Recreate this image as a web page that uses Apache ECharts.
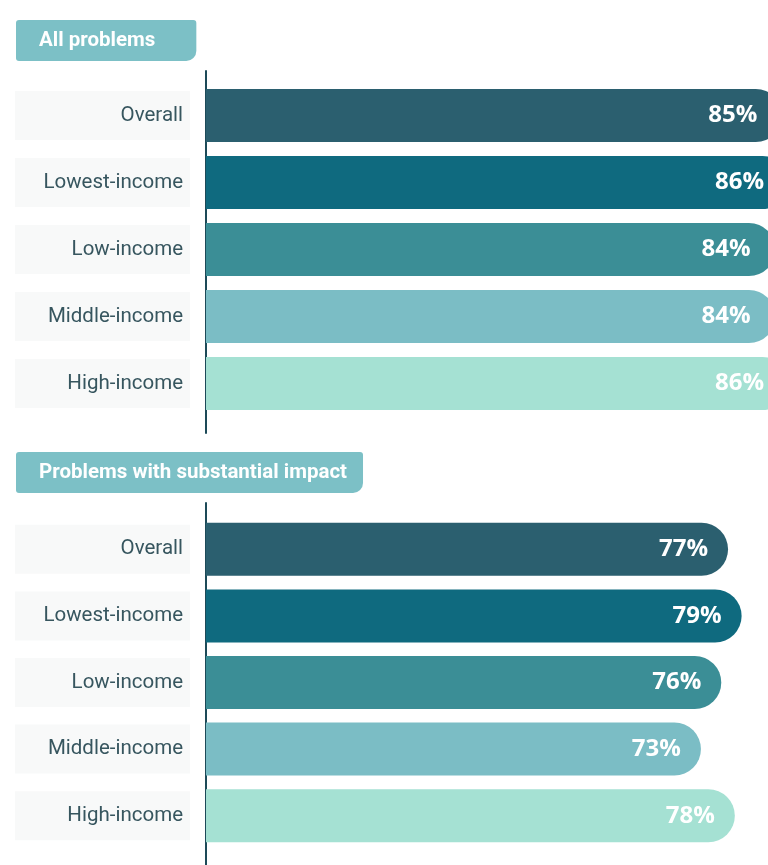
<!DOCTYPE html>
<html>
<head>
<meta charset="utf-8">
<script src="https://cdn.jsdelivr.net/npm/echarts@6/dist/echarts.min.js"></script>
<style>
  html, body { margin: 0; padding: 0; background: #ffffff; }
  #chart { width: 768px; height: 865px; }
</style>
</head>
<body>
<div id="chart"></div>
<script>
// Income groups, top to bottom
const categories = ['Overall', 'Lowest-income', 'Low-income', 'Middle-income', 'High-income'];
// Share of people reporting problems (%)
const allProblems = [85, 86, 84, 84, 86];
const substantialImpact = [77, 79, 76, 73, 78];
const sectionTitles = ['All problems', 'Problems with substantial impact'];

// One colour per income group
const palette = ['#2b5f6f', '#0f6a7f', '#3b8e96', '#7bbdc5', '#a5e1d3'];

function barData(values) {
  return values.map((v, i) => ({ value: v, itemStyle: { color: palette[i] } }));
}

function headerTitle(text, top, padRight) {
  return {
    text: text,
    left: 16,
    top: top,
    padding: [10, padRight, 10, 23],
    backgroundColor: '#7cc0c6',
    borderRadius: [3, 3, 10, 3],
    textStyle: {
      color: '#ffffff',
      fontFamily: 'Roboto',
      fontWeight: 'bold',
      fontSize: 20.5,
      lineHeight: 21
    }
  };
}

const categoryAxisLabel = {
  fontFamily: 'Roboto',
  fontSize: 20.5,
  color: '#37565f',
  margin: 16,
  align: 'right',
  width: 161,
  backgroundColor: '#f8f9f9',
  padding: [14, 7, 14, 7]
};

function categoryAxis(gridIndex) {
  return {
    type: 'category',
    gridIndex: gridIndex,
    data: categories,
    inverse: true,
    axisLine: { show: false },
    axisTick: { show: false },
    axisLabel: categoryAxisLabel
  };
}

function valueAxis(gridIndex) {
  return {
    type: 'value',
    gridIndex: gridIndex,
    min: 0,
    max: 100,
    show: false
  };
}

// Thin axes that only carry the vertical baseline of each section
function baselineY(gridIndex) {
  return {
    type: 'value',
    gridIndex: gridIndex,
    axisLine: { show: true, lineStyle: { color: '#1d4a58', width: 2 } },
    axisTick: { show: false },
    axisLabel: { show: false },
    splitLine: { show: false }
  };
}
function baselineX(gridIndex) {
  return { type: 'value', gridIndex: gridIndex, show: false };
}

function valueLabel(distance) {
  return {
    show: true,
    position: 'insideRight',
    distance: distance,
    formatter: p => p.value + '%',
    color: '#ffffff',
    fontFamily: 'Open Sans',
    fontWeight: 'bold',
    fontSize: 24
  };
}

const chart = echarts.init(document.getElementById('chart'), null, { renderer: 'canvas' });

chart.setOption({
  backgroundColor: '#ffffff',
  animation: false,
  title: [
    headerTitle(sectionTitles[0], 20, 41),
    headerTitle(sectionTitles[1], 452, 16)
  ],
  grid: [
    { left: 206, top: 82, width: 678, height: 335, outerBoundsMode: 'none' },
    { left: 206, top: 516, width: 678, height: 333, outerBoundsMode: 'none' },
    { left: 206, top: 71, width: 10, height: 362, outerBoundsMode: 'none' },
    { left: 206, top: 503, width: 10, height: 370, outerBoundsMode: 'none' }
  ],
  xAxis: [valueAxis(0), valueAxis(1), baselineX(2), baselineX(3)],
  yAxis: [categoryAxis(0), categoryAxis(1), baselineY(2), baselineY(3)],
  series: [
    {
      type: 'bar',
      xAxisIndex: 0,
      yAxisIndex: 0,
      data: barData(allProblems),
      barWidth: 53,
      itemStyle: { borderRadius: [0, 27, 27, 0] },
      label: valueLabel(25)
    },
    {
      type: 'bar',
      xAxisIndex: 1,
      yAxisIndex: 1,
      data: barData(substantialImpact),
      barWidth: 53,
      itemStyle: { borderRadius: [0, 27, 27, 0] },
      label: valueLabel(20)
    }
  ]
});
</script>
</body>
</html>
